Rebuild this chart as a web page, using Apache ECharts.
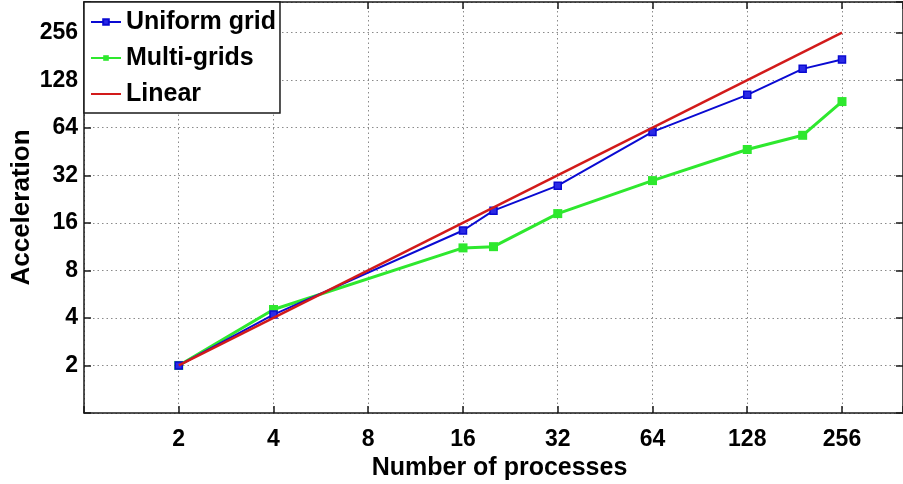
<!DOCTYPE html>
<html>
<head>
<meta charset="utf-8">
<title>Acceleration vs number of processes</title>
<script src="https://cdn.jsdelivr.net/npm/echarts@6/dist/echarts.min.js"></script>
<style>
  html, body { margin: 0; padding: 0; background: #fff; }
  #chart { width: 903px; height: 484px; }
</style>
</head>
<body>
<div id="chart"></div>
<script>
// Number of processes used in each run
const procs = [2, 4, 16, 20, 32, 64, 128, 192, 256];
// Measured acceleration (speed-up) for each run
const uniformGrid = [2, 4.2, 14.3, 19.1, 27.5, 60.2, 103.3, 150.9, 172.8];
const multiGrids = [2, 4.52, 11.1, 11.3, 18.3, 29.6, 46.6, 57.3, 93.7];
// Ideal linear speed-up
const linearProcs = [2, 256];
const linearSpeedup = [2, 256];
// Labelled powers of two on both axes
const tickLabels = [2, 4, 8, 16, 32, 64, 128, 256];

const FONT = '"Liberation Sans", Arial, Helvetica, sans-serif';
const AXIS_COLOR = '#1a1a1a';
const BLUE = '#0a0ad2';
const GREEN = '#2ee82e';
const RED = '#d21a1a';

function pairs(xs, ys) {
  return xs.map((x, i) => [x, ys[i]]);
}

function tickFormatter(v) {
  const r = Math.round(v);
  return (Math.abs(v - r) < 1e-6 && tickLabels.includes(r)) ? String(r) : '';
}

function logAxis(extra) {
  return Object.assign({
    type: 'log',
    logBase: 2,
    min: 1,
    max: 400,
    interval: 1,
    splitNumber: 9,
    axisLine: { show: true, onZero: false, lineStyle: { color: AXIS_COLOR, width: 1.5 } },
    axisTick: { show: true, inside: true, length: 7, lineStyle: { color: AXIS_COLOR, width: 1.5 } },
    minorTick: { show: false },
    splitLine: { show: false },
    axisLabel: { show: false }
  }, extra);
}

const gridLine = { show: true, lineStyle: { color: '#8a8a8a', width: 1, type: [1.5, 3] } };
const labelStyle = { color: '#000', fontFamily: FONT, fontWeight: 'bold', fontSize: 23 };
const nameStyle = { color: '#000', fontFamily: FONT, fontWeight: 'bold', fontSize: 25 };

const chart = echarts.init(document.getElementById('chart'), null, { renderer: 'canvas' });

chart.setOption({
  animation: false,
  backgroundColor: '#fff',
  grid: { left: 84, right: 0, top: 2, bottom: 71, containLabel: false, outerBoundsMode: 'none' },
  xAxis: [
    logAxis({
      position: 'bottom',
      name: 'Number of processes',
      nameLocation: 'middle',
      nameGap: 43,
      nameTextStyle: Object.assign({ padding: [0, 0, 0, 12] }, nameStyle),
      splitLine: gridLine,
      axisLabel: Object.assign({ show: true, formatter: tickFormatter, margin: 15 }, labelStyle)
    }),
    logAxis({ position: 'top' })
  ],
  yAxis: [
    logAxis({
      position: 'left',
      name: 'Acceleration',
      nameLocation: 'middle',
      nameGap: 49,
      nameMoveOverlap: false,
      nameTextStyle: Object.assign({}, nameStyle, { fontSize: 26 }),
      splitLine: gridLine,
      axisLabel: Object.assign({ show: true, formatter: tickFormatter, margin: 6 }, labelStyle)
    }),
    logAxis({ position: 'right' })
  ],
  legend: {
    orient: 'vertical',
    left: 84,
    top: 2,
    padding: [5, 4, 4, 6],
    itemGap: 6,
    itemWidth: 30,
    itemHeight: 7,
    backgroundColor: '#fff',
    borderColor: AXIS_COLOR,
    borderWidth: 1.5,
    borderRadius: 0,
    textStyle: { color: '#000', fontFamily: FONT, fontWeight: 'bold', fontSize: 25, lineHeight: 30 },
    data: [
      { name: 'Uniform grid' },
      { name: 'Multi-grids' },
      { name: 'Linear', itemStyle: { color: 'rgba(0,0,0,0)', borderWidth: 0, opacity: 0 } }
    ]
  },
  series: [
    {
      name: 'Uniform grid',
      type: 'line',
      data: pairs(procs, uniformGrid),
      symbol: 'rect',
      symbolSize: 7,
      lineStyle: { color: BLUE, width: 2 },
      itemStyle: { color: '#2a2ae6', borderColor: BLUE, borderWidth: 1.5 },
      z: 3
    },
    {
      name: 'Multi-grids',
      type: 'line',
      data: pairs(procs, multiGrids),
      symbol: 'rect',
      symbolSize: 9,
      lineStyle: { color: GREEN, width: 3 },
      itemStyle: { color: GREEN, borderColor: GREEN, borderWidth: 0 },
      z: 2
    },
    {
      name: 'Linear',
      type: 'line',
      data: pairs(linearProcs, linearSpeedup),
      symbol: 'none',
      lineStyle: { color: RED, width: 2.5 },
      itemStyle: { color: RED },
      z: 4
    }
  ]
});
</script>
</body>
</html>
